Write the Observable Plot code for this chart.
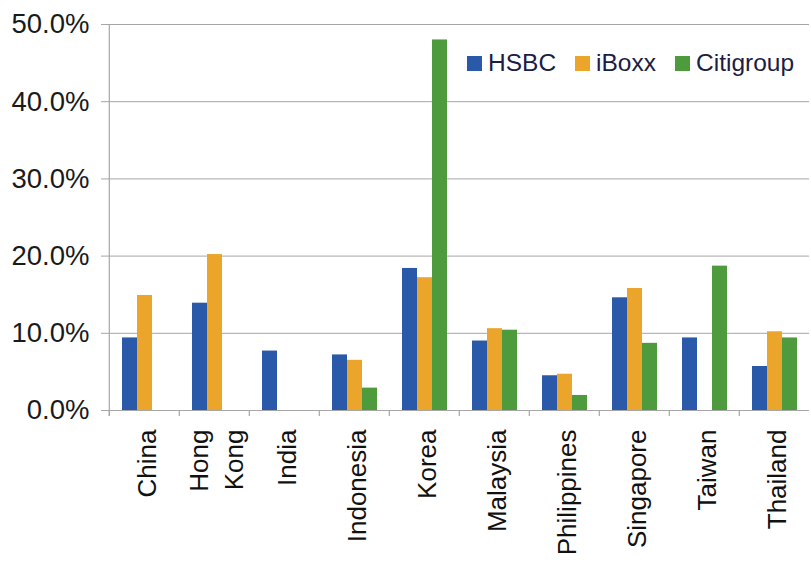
<!DOCTYPE html>
<html><head><meta charset="utf-8">
<script src="https://cdn.jsdelivr.net/npm/d3@7"></script>
<script src="https://cdn.jsdelivr.net/npm/@observablehq/plot@0.6"></script>
<style>
body{margin:0;background:#fff;}
#chart{position:relative;width:811px;height:562px;font-family:"Liberation Sans",Arial,sans-serif;overflow:hidden;}
#legend{position:absolute;left:467px;top:49px;width:344px;white-space:nowrap;}
#legend .lg-swatches{margin:0;min-height:0;flex-wrap:nowrap;font-size:24.5px;color:#1c1c44;font-family:"Liberation Sans",Arial,sans-serif;}
#legend .lg-swatch{margin-right:19px !important;}
#legend .lg-swatch > svg{margin-right:6px !important;}
</style></head><body><div id="chart"><div id="legend"></div></div>
<script>
const countries = ["China","Hong Kong","India","Indonesia","Korea","Malaysia","Philippines","Singapore","Taiwan","Thailand"];
const series = ["HSBC","iBoxx","Citigroup"];
const hsbc =      [9.4, 13.9, 7.7, 7.2, 18.4, 9.0, 4.5, 14.6, 9.4, 5.7];
const iboxx =     [14.9, 20.2, null, 6.5, 17.2, 10.6, 4.7, 15.8, null, 10.2];
const citigroup = [null, null, null, 2.9, 48.0, 10.4, 1.95, 8.7, 18.7, 9.4];
const yTicks = [0, 10, 20, 30, 40, 50];
const colors = ["#2b59a9", "#eaa52a", "#4e9b3d"];

const W = 811, H = 562, ML = 107, MR = 0, MT = 24, MB = 152;
const step = (W - ML - MR) / countries.length;
const grid = "#a6a6a6";
const font = "'Liberation Sans', Arial, sans-serif";

const bySeries = [hsbc, iboxx, citigroup];
const rows = countries.flatMap((c, i) =>
  series.map((s, k) => ({country: c, series: s, value: bySeries[k][i]}))
        .filter(d => d.value != null));

const plot = Plot.plot({
  width: W, height: H,
  marginLeft: ML, marginRight: MR, marginTop: MT, marginBottom: MB,
  style: {fontFamily: font, background: "#fff"},
  fx: {domain: countries, padding: 0},
  x: {domain: series, paddingInner: 0, paddingOuter: 0.75, axis: null},
  y: {domain: [0, 50]},
  color: {domain: series, range: colors},
  marks: [
    Plot.gridY(yTicks, {stroke: grid, strokeOpacity: 1}),
    Plot.axisY(yTicks, {tickSize: 8, tickPadding: 12, tickFormat: d => d.toFixed(1) + "%",
      fontSize: 27.5, stroke: grid, fill: "#1a1a1a", label: null}),
    Plot.axisFx({anchor: "bottom", tickSize: 0, tickPadding: 19, tickRotate: -90,
      fontSize: 26, lineHeight: 1.35, tickFormat: d => d.replace(" ", "\n"), label: null, fill: "#111"}),
    Plot.barY(rows, {fx: "country", x: "series", y: "value", fill: "series"}),
    Plot.ruleX(countries, {fx: d => d, x: null, dx: -step / 2, insetTop: H - MT - MB, insetBottom: -6, stroke: grid, strokeWidth: 1.2}),
    Plot.ruleX(countries.slice(0, 1), {fx: d => d, x: null, dx: -step / 2, insetBottom: -6, stroke: grid, strokeWidth: 1.2})
  ]
});
const chart = document.getElementById("chart");
chart.insertBefore(plot, chart.firstChild);
const legend = plot.legend("color", {className: "lg", swatchSize: 15});
document.getElementById("legend").append(legend);
</script>
</body></html>
